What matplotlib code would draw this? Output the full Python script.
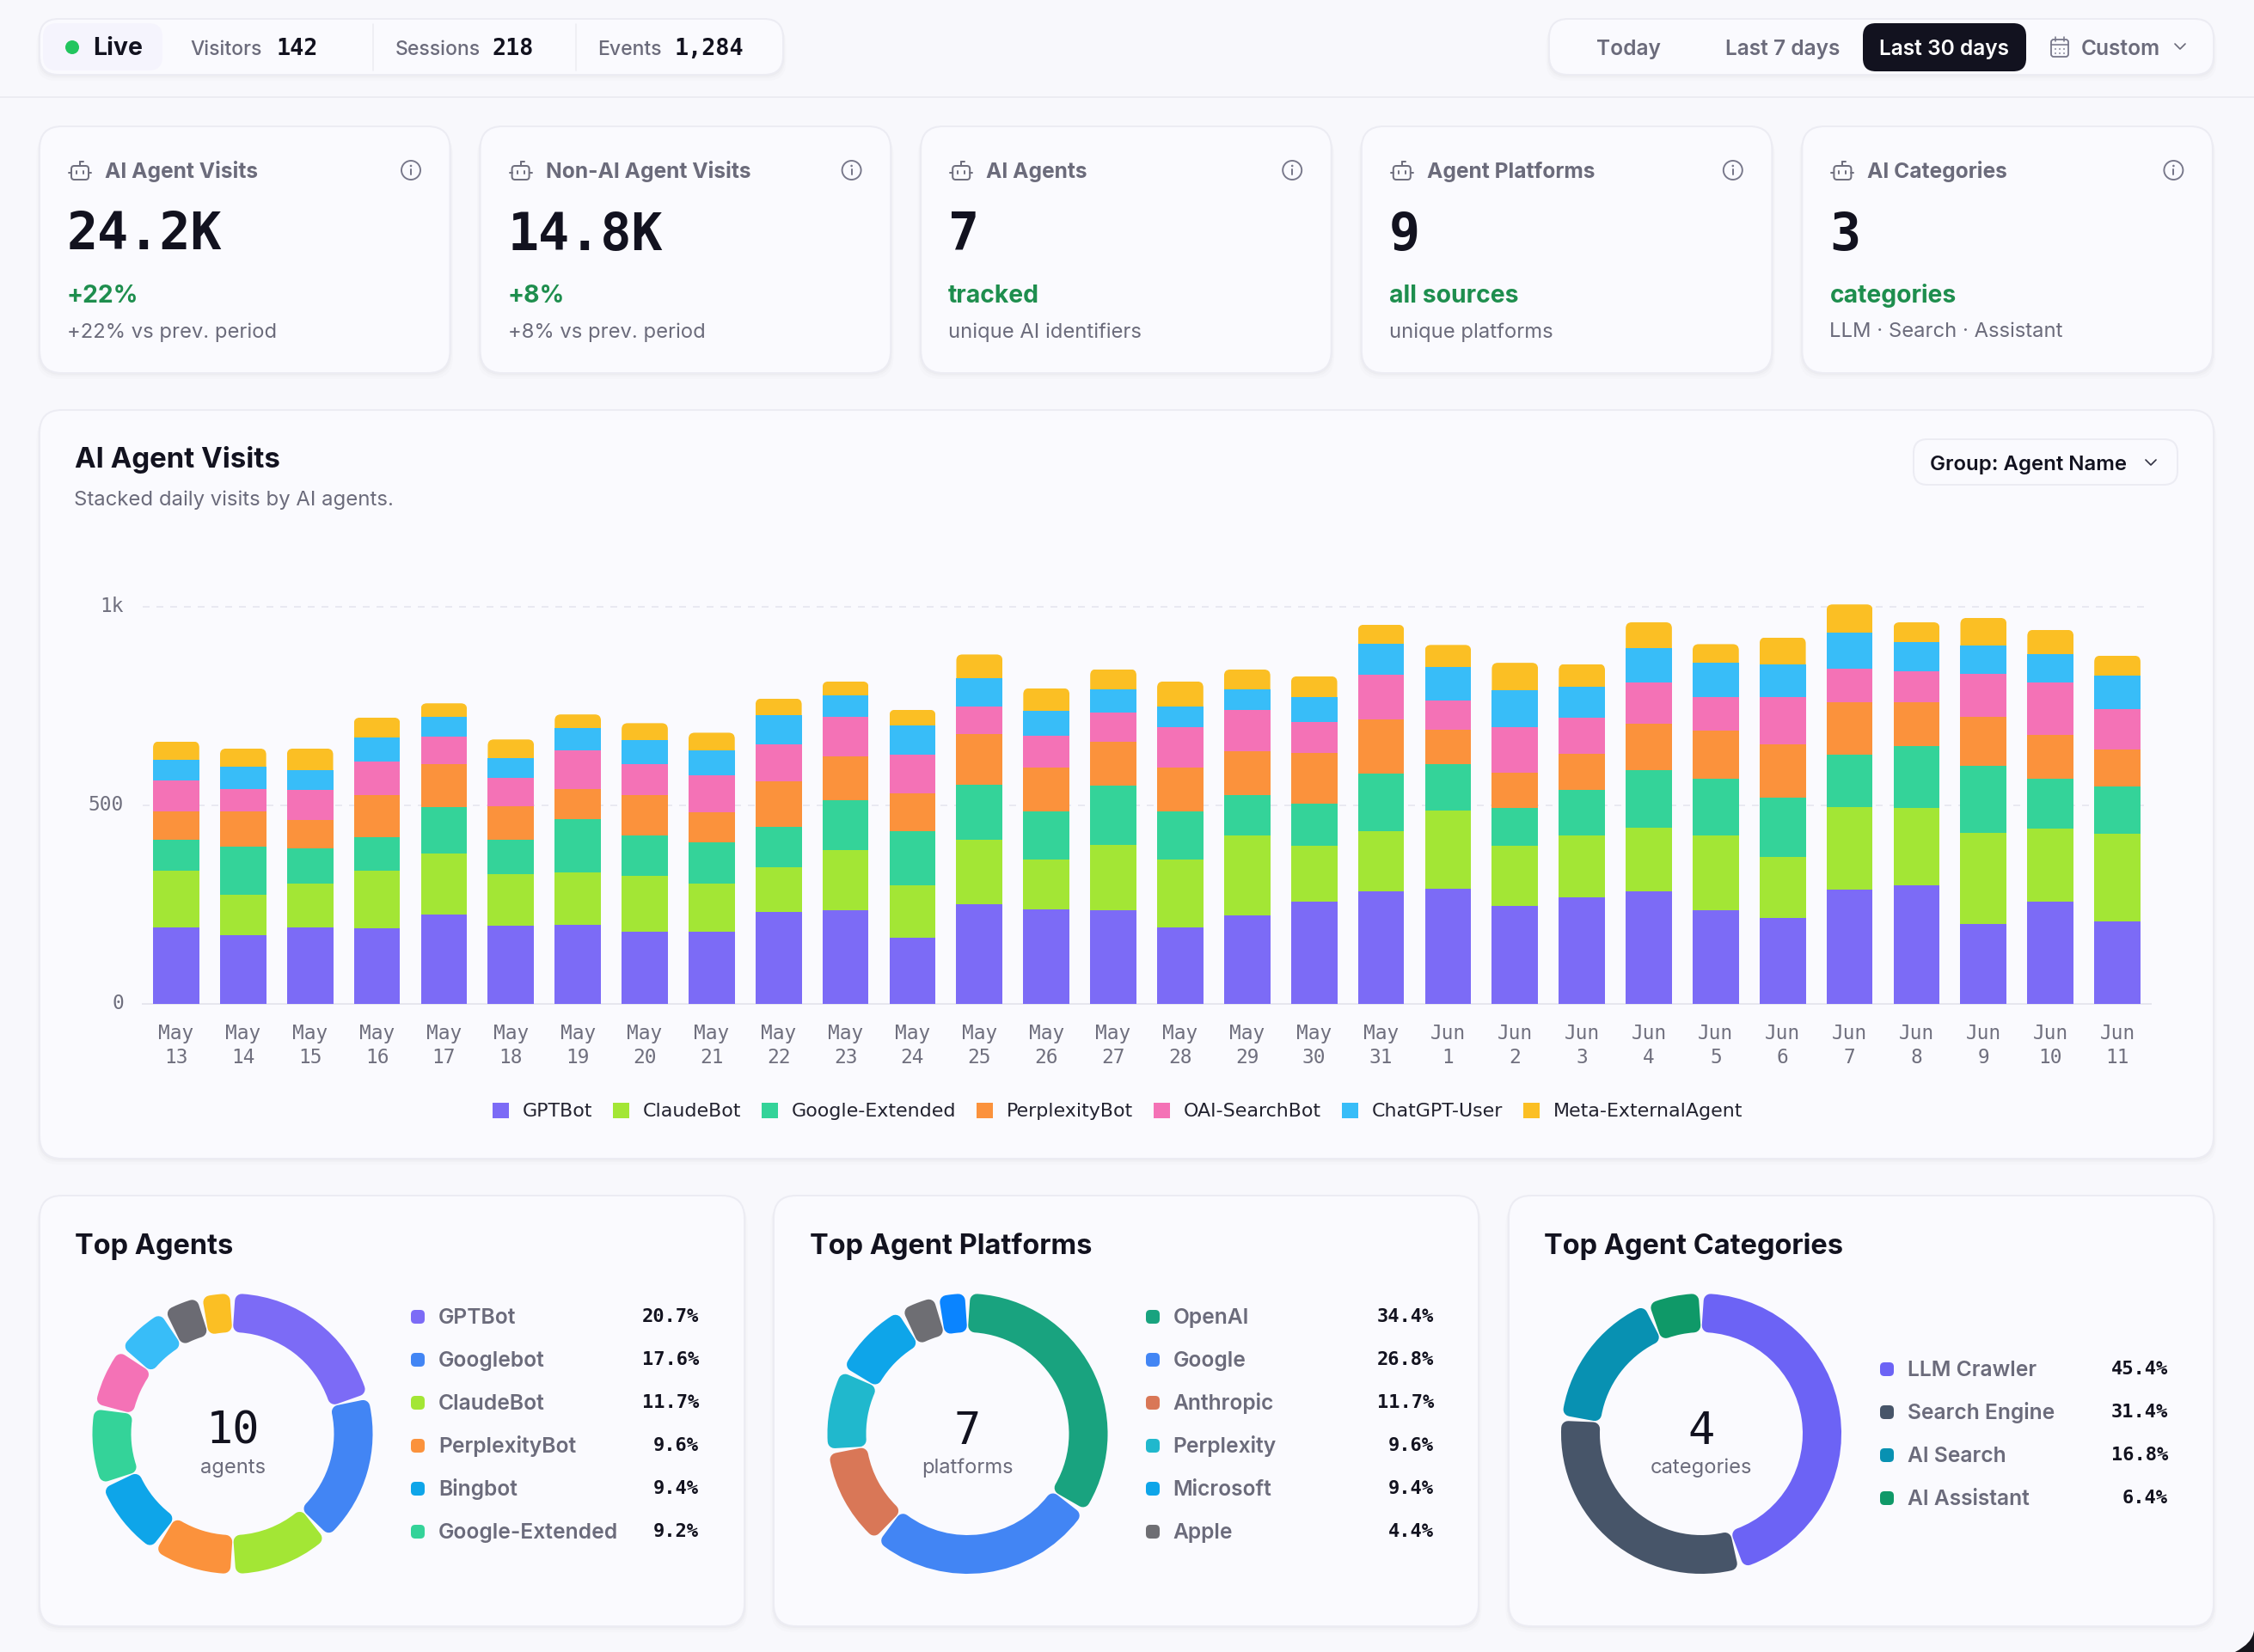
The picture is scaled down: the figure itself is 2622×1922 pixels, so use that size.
import numpy as np
import matplotlib
matplotlib.use("Agg")
import matplotlib.pyplot as plt
from matplotlib.patches import FancyBboxPatch, Circle, PathPatch, Rectangle
from matplotlib.path import Path
from matplotlib.lines import Line2D
from matplotlib.ticker import FixedLocator, FuncFormatter
from matplotlib.transforms import ScaledTranslation

W, H = 2622, 1922

# ---- data ----
days = ["May\n13","May\n14","May\n15","May\n16","May\n17","May\n18","May\n19","May\n20","May\n21","May\n22",
        "May\n23","May\n24","May\n25","May\n26","May\n27","May\n28","May\n29","May\n30","May\n31","Jun\n1",
        "Jun\n2","Jun\n3","Jun\n4","Jun\n5","Jun\n6","Jun\n7","Jun\n8","Jun\n9","Jun\n10","Jun\n11"]
gptbot  = [192,173,192,190,226,196,199,181,181,231,237,166,251,239,237,193,224,257,283,289,246,268,283,237,216,287,298,202,257,207]
claude  = [143,102,112,145,152,130,132,142,123,113,150,133,162,124,163,170,200,141,151,197,152,157,160,187,155,209,195,228,184,221]
gext    = [ 78,122, 87, 85,118, 87,134,102,103,101,125,135,140,122,150,122,101,107,147,117, 96,114,145,144,149,132,157,170,127,119]
perplex = [ 71, 87, 72,105,107, 85, 77,102, 76,115,111, 97,126,110,110,110,111,128,136, 87, 89, 90,117,120,133,131,109,122,110, 93]
oai     = [ 78, 58, 76, 85, 71, 72, 96, 77, 92, 94, 99, 96, 70, 80, 74,102,104, 76,111, 75,115, 91,104, 84,119, 85, 79,110,131,103]
chatgpt = [ 53, 56, 49, 61, 49, 50, 56, 60, 63, 73, 54, 75, 71, 63, 58, 52, 53, 63, 79, 83, 91, 78, 88, 88, 84, 90, 74, 70, 73, 83]
meta    = [ 46, 45, 55, 50, 34, 46, 35, 43, 45, 42, 36, 39, 60, 57, 51, 63, 49, 53, 48, 56, 70, 58, 64, 46, 67, 72, 49, 70, 60, 51]
series_names = ["GPTBot","ClaudeBot","Google-Extended","PerplexityBot","OAI-SearchBot","ChatGPT-User","Meta-ExternalAgent"]
series_vals = [gptbot, claude, gext, perplex, oai, chatgpt, meta]
series_cols = ["#7C6BF6","#A3E635","#34D399","#FB923C","#F472B6","#38BDF8","#FBBF24"]

kpi_titles = ["AI Agent Visits","Non-AI Agent Visits","AI Agents","Agent Platforms","AI Categories"]
kpi_values = ["24.2K","14.8K","7","9","3"]
kpi_deltas = ["+22%","+8%","tracked","all sources","categories"]
kpi_notes  = ["+22% vs prev. period","+8% vs prev. period","unique AI identifiers","unique platforms","LLM · Search · Assistant"]

agent_names = ["GPTBot","Googlebot","ClaudeBot","PerplexityBot","Bingbot","Google-Extended"]
agent_vals  = [20.7,17.6,11.7,9.6,9.4,9.2,7.2,6.4,4.5,3.8]
agent_cols  = ["#7C6BF6","#4285F4","#A3E635","#FB923C","#0EA5E9","#34D399","#F472B6","#38BDF8","#6B6B73","#FBBF24"]
plat_names  = ["OpenAI","Google","Anthropic","Perplexity","Microsoft","Apple"]
plat_vals   = [34.4,26.8,11.7,9.6,9.4,4.4,3.6]
plat_cols   = ["#19A37F","#4285F4","#D97757","#20B8CD","#0EA5E9","#6E6E73","#0A84FF"]
cat_names   = ["LLM Crawler","Search Engine","AI Search","AI Assistant"]
cat_vals    = [45.4,31.4,16.8,6.4]
cat_cols    = ["#6C63F5","#475569","#0891B2","#0F9968"]

BG, CARD, EDGE = "#F8F8FC", "#FAFAFE", "#ECECF3"
INK, MUTED, GREEN = "#12121F", "#6B6B7B", "#1E8E4E"
SANS = ["Inter", "DejaVu Sans"]
MONO = "DejaVu Sans Mono"

fig = plt.figure(figsize=(W/100, H/100), dpi=100, facecolor=BG)
bg = fig.add_axes([0,0,1,1], zorder=0)
bg.set_xlim(0, W); bg.set_ylim(H, 0); bg.axis("off")

def pt(px): return px*0.72

def T(x, y, s, size, color=INK, weight="normal", family=None, ha="left", va="baseline"):
    return bg.text(x, y, s, fontsize=pt(size), color=color, fontweight=weight,
                   family=family or SANS, ha=ha, va=va)

def box(x0, y0, x1, y1, r, fc=CARD, ec=EDGE, lw=2.0, z=1):
    p = FancyBboxPatch((x0, y0), x1-x0, y1-y0, boxstyle=f"round,pad=0,rounding_size={r}",
                       fc=fc, ec=ec, lw=pt(lw), zorder=z)
    bg.add_patch(p)
    return p

def card(x0, y0, x1, y1, r):
    for off, a in ((7, .012), (4, .018), (2, .025)):
        bg.add_patch(FancyBboxPatch((x0-off/2, y0+off), x1-x0+off, y1-y0,
                     boxstyle=f"round,pad=0,rounding_size={r}", fc="#30304A", ec="none", alpha=a, zorder=.5))
    box(x0, y0, x1, y1, r)

def line(xs, ys, c=MUTED, lw=2.0, z=3):
    bg.add_line(Line2D(xs, ys, color=c, lw=pt(lw), zorder=z, solid_capstyle="round", solid_joinstyle="round"))

def chevron(x, y, c=MUTED):
    line([x-6, x, x+6], [y-3, y+3, y-3], c=c, lw=1.7)

def robot(x, y):
    c = "#6F6F7E"
    box(x-10, y-6, x+10, y+10, 3.5, fc="none", ec=c, lw=2, z=3)
    line([x, x], [y-6, y-11], c=c); line([x, x+4], [y-11, y-11], c=c)
    line([x-13, x-10], [y+2, y+2], c=c); line([x+10, x+13], [y+2, y+2], c=c)
    line([x-4, x-4], [y, y+3], c=c); line([x+4, x+4], [y, y+3], c=c)

def info(x, y):
    bg.add_patch(Circle((x, y), 11, fc="none", ec="#77778A", lw=pt(1.9), zorder=3))
    line([x, x], [y-1, y+5], c="#77778A", lw=2)
    bg.add_patch(Circle((x, y-5), 1.3, fc="#77778A", ec="none", zorder=3))

# ---- top bar ----
line([0, W], [113, 113], c="#ECECF2", lw=2, z=1)
card(46, 22, 911, 87, 22)
box(50, 27, 189, 82, 16, fc="#F5F4FD", ec="none", z=1.5)
bg.add_patch(Circle((84, 55), 8, fc="#22C55E", ec="none", zorder=3))
T(108, 64, "Live", 28.5, weight="bold")
for x0, lab, x1, val in ((221,"Visitors",321,"142"), (459.5,"Sessions",572,"218"), (695,"Events",784.5,"1,284")):
    T(x0, 63.5, lab, 23, color=MUTED, weight="medium")
    T(x1, 63.5, val, 26.8, weight="bold", family=MONO)
line([434,434],[28,82],c="#ECECF2",lw=1.5); line([670,670],[28,82],c="#ECECF2",lw=1.5)

card(1802, 22, 2575, 87, 22)
box(2167, 27, 2357, 83, 15, fc="#12121F", ec="none", z=1.5)
T(1894, 64, "Today", 24.5, color=MUTED, weight="semibold", ha="center")
T(2074, 64, "Last 7 days", 24.5, color=MUTED, weight="semibold", ha="center")
T(2261.5, 64, "Last 30 days", 24.5, color="#FFFFFF", weight="semibold", ha="center")
T(2421, 64, "Custom", 24.5, color=MUTED, weight="semibold")
box(2386, 46, 2406, 66, 3, fc="none", ec="#77778A", lw=1.8, z=3)
line([2386,2406],[52,52],c="#77778A",lw=1.6)
line([2391,2391],[43,48],c="#77778A",lw=1.6); line([2401,2401],[43,48],c="#77778A",lw=1.6)
for gx in (2391,2396,2401):
    for gy in (57,62):
        bg.add_patch(Circle((gx,gy),0.9,fc="#77778A",ec="none",zorder=3))
chevron(2536, 54)

# ---- KPI cards ----
for i in range(5):
    x = 46 + 512.6*i
    card(x, 147, x+477.5, 434, 26)
    robot(x+47, 199)
    T(x+76, 206.5, kpi_titles[i], 24.6, color=MUTED, weight="bold")
    info(x+432, 198)
    T(x+32, 290.5, kpi_values[i], 60, weight="bold", family=MONO)
    T(x+32, 352, kpi_deltas[i], 28.3, color=GREEN, weight="bold")
    T(x+32, 392.5, kpi_notes[i], 23.8, color=MUTED)

# ---- stacked chart ----
card(46, 477, 2575, 1348, 26)
T(87, 544, "AI Agent Visits", 33, weight="bold")
T(86.5, 588, "Stacked daily visits by AI agents.", 23.9, color=MUTED)
box(2226, 511, 2533, 564, 16, z=1.5)
T(2245, 547, "Group: Agent Name", 24, weight="semibold")
chevron(2502, 538, c="#333344")

ax_left, ax_right, ax_top, ax_bot = 166, 2502, 690, 1168
ax = fig.add_axes([ax_left/W, 1-ax_bot/H, (ax_right-ax_left)/W, (ax_bot-ax_top)/H], zorder=2)
ax.patch.set_alpha(0)
for s in ("top","right","left"):
    ax.spines[s].set_visible(False)
ax.spines["bottom"].set_color("#E6E6EE"); ax.spines["bottom"].set_linewidth(pt(2))
x = np.arange(len(days))
px_per_day = (ax_right-ax_left)/30
ymax = (ax_bot-ax_top)/0.462
ax.set_xlim(-0.5, 29.5); ax.set_ylim(0, ymax)
ax.yaxis.set_major_locator(FixedLocator([0,500,1000]))
ax.yaxis.set_major_formatter(FuncFormatter(lambda v,_: "1k" if v==1000 else f"{int(v)}"))
ax.set_xticks(x); ax.set_xticklabels(days, linespacing=1.27)
ax.tick_params(axis="both", length=0, labelsize=pt(22.8), labelcolor="#6F6F7E", labelfontfamily=MONO)
ax.tick_params(axis="x", pad=pt(23)); ax.tick_params(axis="y", pad=pt(22))
ax.grid(axis="y", color="#E6E6EE", lw=pt(1.6), dashes=(5,5)); ax.set_axisbelow(True)
shift = ScaledTranslation(0, 3/100, fig.dpi_scale_trans)
for tk in ax.yaxis.get_major_ticks():
    tk.label1.set_transform(tk.label1.get_transform() + shift)
bottom = np.zeros(len(days))
handles = []
for name, vals, col in zip(series_names, series_vals, series_cols):
    bars = ax.bar(x, vals, width=0.69, bottom=bottom, color=col, lw=0, label=name, zorder=3)
    handles.append(bars)
    if name == series_names[-1]:
        rx = 7/px_per_day
        ry = 7/0.462
        for b in bars:
            clip = FancyBboxPatch((b.get_x(), b.get_y()-40), b.get_width(), b.get_height()+40,
                                  boxstyle=f"round,pad=0,rounding_size={rx}", mutation_aspect=ry/rx,
                                  transform=ax.transData)
            b.set_clip_path(clip)
    bottom = bottom + np.array(vals)
leg = fig.legend(handles=handles, loc="center", bbox_to_anchor=(1300/W, 1-1293/H), ncol=7, frameon=False,
                 prop={"family":"DejaVu Sans","size":pt(22.1)}, handlelength=19/22.1, handleheight=19/22.1,
                 handletextpad=0.72, columnspacing=1.08, labelcolor="#22222F", borderpad=0, borderaxespad=0)

# ---- donuts ----
def donut(cx, cy, vals, cols, names, center, sub, title, tx, mx, lx, rx, y0):
    card(mx_card[title][0], 1391, mx_card[title][1], 1892, 26)
    T(tx, 1459, title, 32.5, weight="bold")
    S = 170
    a = fig.add_axes([(cx-S)/W, 1-(cy+S)/H, 2*S/W, 2*S/H], zorder=2)
    stroke, gap, Ro, Ri = 16, 3.5, 163, 118
    wedges, _ = a.pie(vals, colors=cols, startangle=90, counterclock=False, radius=Ro-stroke/2,
                      wedgeprops=dict(width=Ro-Ri-stroke))
    a.set_xlim(-S, S); a.set_ylim(-S, S); a.set_aspect("equal")
    pad = np.degrees((gap/2+stroke/2)/((Ro+Ri)/2))
    for w, c in zip(wedges, cols):
        w.set_theta1(w.theta1+pad); w.set_theta2(w.theta2-pad)
        w.set_edgecolor(c); w.set_linewidth(pt(stroke)); w.set_joinstyle("round")
    T(cx, 1680, center, 52, family=MONO, ha="center")
    T(cx, 1714, sub, 23.7, color=MUTED, ha="center")
    for i, n in enumerate(names):
        y = y0 + 50*i
        box(mx, y-8, mx+16, y+8, 5, fc=cols[i], ec="none", z=3)
        T(lx-1, y+8, n, 24.6, color=MUTED, weight="semibold")
        T(rx, y+6, f"{vals[i]:.1f}%", 22, weight="bold", family=MONO, ha="right")

mx_card = {"Top Agents":(46,866), "Top Agent Platforms":(900,1720), "Top Agent Categories":(1755,2575)}
donut(270.5,1668,agent_vals,agent_cols,agent_names,"10","agents","Top Agents",87,478,511,813,1532)
donut(1125.5,1668,plat_vals,plat_cols,plat_names,"7","platforms","Top Agent Platforms",942,1333,1365.5,1668,1532)
donut(1979,1668,cat_vals,cat_cols,cat_names,"4","categories","Top Agent Categories",1796,2187,2220,2522,1593)

# screen-corner artefact, bottom right
corner = Path([(2622,1897),(2620,1912),(2600,1922),(2622,1922),(2622,1897)],
              [Path.MOVETO,Path.CURVE3,Path.CURVE3,Path.LINETO,Path.CLOSEPOLY])
bg.add_patch(PathPatch(corner, fc="#15151C", ec="none", zorder=4))

fig.savefig("out.png", dpi=100, facecolor=BG)
